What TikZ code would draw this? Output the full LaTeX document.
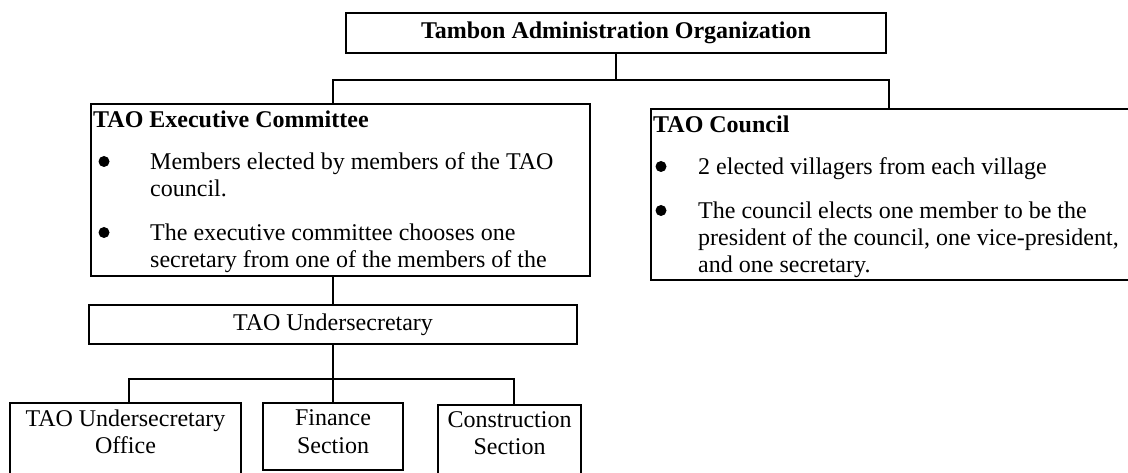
\documentclass[tikz,border=0pt]{standalone}
\usepackage{fontspec}
\setmainfont{Liberation Serif}
\begin{document}
\begin{tikzpicture}[x=1pt,y=1pt,
  box/.style={draw, line width=1.4pt, inner sep=0pt, outer sep=0pt, anchor=north west},
  txt/.style={inner sep=0pt, anchor=base west, font=\fontsize{24}{27}\selectfont},
  btxt/.style={txt, font=\bfseries\fontsize{24}{27}\selectfont},
  ctxt/.style={inner sep=0pt, anchor=base, font=\fontsize{24}{27}\selectfont},
  link/.style={line width=1.4pt},
  dotr/.style={fill=black}]
\useasboundingbox (0,0) rectangle (1128,-473);
\clip (0,0) rectangle (1128,-473);

% top level
\node[box, minimum width=540pt, minimum height=40pt,
      font=\bfseries\fontsize{24}{27}\selectfont] (tao) at (346,-13)
      {Tambon Administration Organization};

% executive committee
\node[box, minimum width=499pt, minimum height=172pt] (exec) at (91,-104) {};
\node[btxt] (execT) at (93,-128) {TAO Executive Committee};
\node[txt] (execA1) at (150,-170) {Members elected by members of the TAO};
\node[txt] (execA2) at (150,-197) {council.};
\node[txt] (execB1) at (150,-241) {The executive committee chooses one};
\node[txt] (execB2) at (150,-268) {secretary from one of the members of the};
\fill[dotr] (104,-161.5) circle (5.5);
\fill[dotr] (104,-232.5) circle (5.5);

% council
\node[box, minimum width=490pt, minimum height=171pt] (council) at (651,-109) {};
\node[btxt] (counT) at (653,-133) {TAO Council};
\node[txt] (counA) at (698,-175) {2 elected villagers from each village};
\node[txt] (counB1) at (698,-219) {The council elects one member to be the};
\node[txt] (counB2) at (698,-246) {president of the council, one vice-president,};
\node[txt] (counB3) at (698,-273) {and one secretary.};
\fill[dotr] (661,-166.5) circle (5.5);
\fill[dotr] (661,-210.5) circle (5.5);

% undersecretary
\node[box, minimum width=488pt, minimum height=39pt,
      font=\fontsize{24}{27}\selectfont] (under) at (89,-305) {TAO Undersecretary};

% sections
\node[box, minimum width=231pt, minimum height=90pt] (office) at (10,-403) {};
\node[ctxt] (officeL1) at (125.5,-426) {TAO Undersecretary};
\node[ctxt] (officeL2) at (125.5,-453) {Office};
\node[box, minimum width=140pt, minimum height=67pt] (finance) at (263,-403) {};
\node[ctxt] (financeL1) at (333,-425) {Finance};
\node[ctxt] (financeL2) at (333,-453) {Section};
\node[box, minimum width=143pt, minimum height=90pt] (constr) at (438,-405) {};
\node[ctxt] (constrL1) at (509.5,-427) {Construction};
\node[ctxt] (constrL2) at (509.5,-454) {Section};

% connectors
\coordinate (barL) at (333,-80);
\coordinate (barR) at (889,-80);
\coordinate (subL) at (129,-379);
\coordinate (subR) at (514,-379);
\draw[link] (tao.south) -- (tao.south |- barL);
\draw[link] (barL |- exec.north) -- (barL) -- (barR) -- (barR |- council.north);
\draw[link] (under.north) -- (under.north |- exec.south);
\draw[link] (under.south) -- (finance.north);
\draw[link] (subL |- office.north) -- (subL) -- (subR) -- (subR |- constr.north);
\end{tikzpicture}
\end{document}
